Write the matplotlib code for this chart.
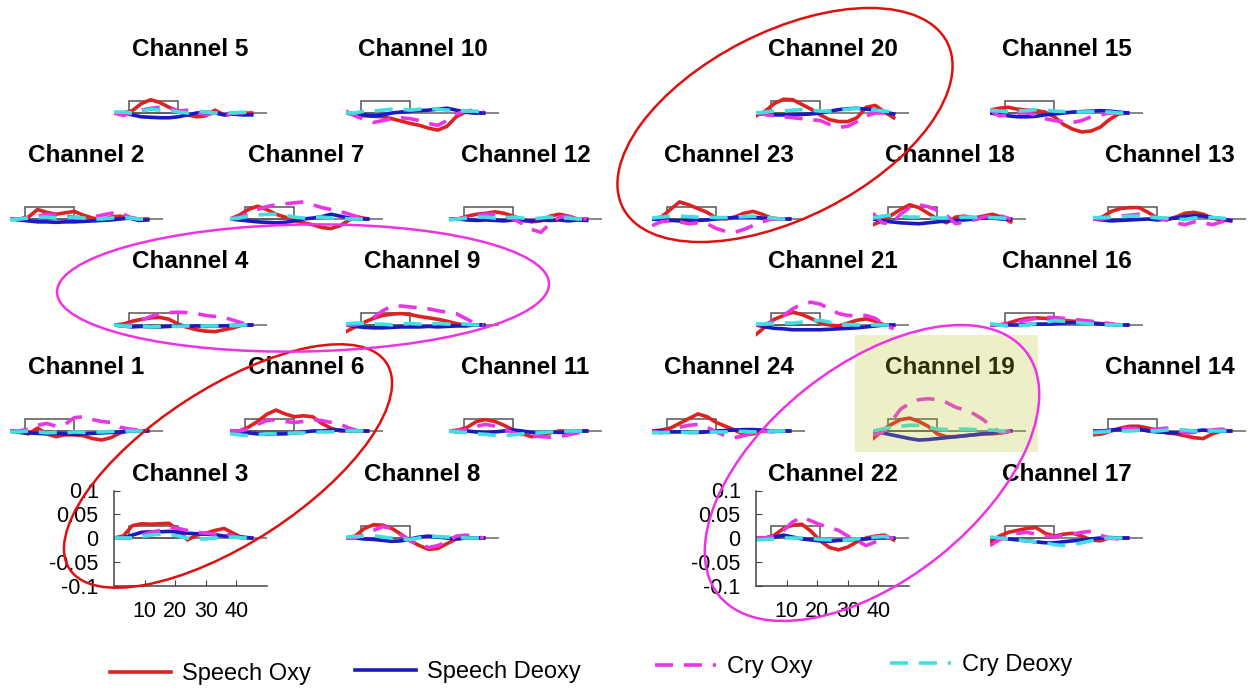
import numpy as np
import matplotlib.pyplot as plt
from matplotlib.patches import Ellipse, Rectangle
from matplotlib.lines import Line2D

plt.rcParams['font.family'] = ['Liberation Sans', 'DejaVu Sans']

# time axis (s)
t = [0, 3, 6, 9, 12, 15, 18, 21, 24, 27, 30, 33, 36, 39, 42, 45]

# stimulus block
stim_on, stim_off, stim_h = 5, 21, 0.025

# so = speech oxy, sd = speech deoxy, co = cry oxy, cd = cry deoxy
ch1 = dict(so=[0, -0.002, -0.006, 0.006, -0.006, -0.012, -0.008, -0.008, -0.01, -0.016, -0.019, -0.014, -0.004, 0, 0, 0],
           sd=[0, -0.003, -0.004, -0.005, -0.006, -0.005, -0.006, -0.007, -0.006, -0.005, -0.004, -0.003, -0.002, 0, 0, 0],
           co=[0, 0, 0.004, 0.012, 0.016, 0.01, 0.014, 0.028, 0.03, 0.024, 0.02, 0.018, 0.008, 0.004, 0.002, 0],
           cd=[-0.002, -0.002, 0, -0.002, -0.004, -0.003, -0.004, -0.002, -0.003, -0.002, -0.002, -0.001, 0, 0, 0, 0])
ch2 = dict(so=[0, 0, 0.004, 0.02, 0.014, 0.01, 0.013, 0.016, 0.008, 0.002, -0.002, 0.004, 0.006, 0.002, 0, 0],
           sd=[0, -0.002, -0.004, -0.006, -0.006, -0.007, -0.006, -0.006, -0.005, -0.004, -0.003, -0.002, 0, 0.002, -0.003, -0.002],
           co=[0, 0, 0.002, 0.006, 0.01, 0.008, 0.006, 0.004, 0.002, 0.004, 0.008, 0.012, 0.014, 0.004, 0, 0],
           cd=[-0.002, 0, 0.002, 0.004, 0.004, 0.002, 0.003, 0.004, 0.002, 0, 0, 0.002, 0.004, 0.002, 0, 0])
ch3 = dict(so=[0, 0.004, 0.026, 0.03, 0.029, 0.03, 0.031, 0.016, -0.004, 0.006, 0.01, 0.016, 0.02, 0.01, 0, 0],
           sd=[0, 0, 0.006, 0.012, 0.013, 0.013, 0.014, 0.012, 0.01, 0.009, 0.008, 0.007, 0.004, 0.004, 0.002, 0],
           co=[0, 0, 0, 0.006, 0.012, 0.016, 0.022, 0.02, 0.016, 0.012, 0.01, 0.008, 0.01, 0.004, 0, -0.004],
           cd=[0, 0, 0, 0.003, 0.006, 0.008, 0.008, 0.004, 0, -0.002, -0.002, 0, 0, 0.002, 0, 0])
ch4 = dict(so=[0, 0.002, 0.008, 0.012, 0.015, 0.016, 0.012, 0.002, -0.005, -0.01, -0.013, -0.014, -0.01, -0.006, 0, 0],
           sd=[0, -0.002, -0.004, -0.003, -0.004, -0.004, -0.003, -0.002, -0.003, -0.002, -0.003, -0.002, -0.002, -0.001, 0, 0],
           co=[0, -0.002, 0.002, 0.01, 0.018, 0.024, 0.026, 0.027, 0.026, 0.024, 0.02, 0.018, 0.016, 0.01, 0.004, 0],
           cd=[0, -0.002, -0.003, -0.002, -0.004, -0.003, -0.002, -0.003, -0.002, -0.003, -0.002, -0.002, 0, -0.002, 0, 0])
ch5 = dict(so=[0, 0, 0.005, 0.02, 0.028, 0.022, 0.012, 0.004, -0.004, -0.008, -0.006, 0.006, -0.004, -0.002, 0, 0],
           sd=[0, 0, -0.004, -0.008, -0.009, -0.01, -0.01, -0.008, -0.004, 0, 0.002, 0, -0.004, -0.002, -0.004, -0.004],
           co=[0, -0.005, 0, 0.006, 0.01, 0.012, 0.01, 0.004, 0.006, 0.002, -0.004, 0, -0.006, 0, 0, 0],
           cd=[0.002, 0.002, 0, 0.004, 0.008, 0.006, 0.006, 0.002, 0, 0.004, 0.002, 0, 0.002, 0, 0.002, 0])
ch6 = dict(so=[0, 0, 0.008, 0.02, 0.035, 0.044, 0.036, 0.03, 0.032, 0.03, 0.016, 0.006, 0, 0, 0, 0],
           sd=[0, -0.002, -0.004, -0.006, -0.007, -0.006, -0.006, -0.004, -0.002, 0, 0, 0.002, 0.002, 0, 0, 0],
           co=[0, 0, 0.004, 0.014, 0.022, 0.024, 0.02, 0.018, 0.02, 0.024, 0.022, 0.018, 0.014, 0.006, 0, 0],
           cd=[-0.006, -0.008, -0.01, -0.008, -0.006, -0.006, -0.005, -0.004, -0.004, -0.003, -0.002, -0.002, 0, 0, 0, 0])
ch7 = dict(so=[0, 0.008, 0.02, 0.027, 0.02, 0.01, 0.004, -0.003, -0.008, -0.012, -0.018, -0.02, -0.014, -0.002, 0.004, 0],
           sd=[0, -0.002, -0.004, -0.006, -0.007, -0.008, -0.007, -0.004, 0, 0.002, 0.005, 0.01, 0.006, 0.002, 0, 0],
           co=[0, 0.004, 0.012, 0.02, 0.026, 0.03, 0.032, 0.034, 0.036, 0.03, 0.024, 0.02, 0.016, 0.01, 0.004, 0],
           cd=[0, 0.002, 0.006, 0.008, 0.01, 0.01, 0.008, 0.004, 0.002, 0.004, 0.004, 0.002, 0.002, 0, 0, 0])
ch8 = dict(so=[0, 0.004, 0.02, 0.028, 0.027, 0.02, 0.008, -0.006, -0.016, -0.024, -0.022, -0.012, -0.002, 0, 0, 0],
           sd=[0, 0, -0.002, -0.003, -0.005, -0.007, -0.006, -0.002, 0.002, 0.004, 0.002, 0, -0.002, 0, 0, 0],
           co=[0, 0, 0.006, 0.016, 0.024, 0.02, 0.006, -0.006, -0.012, -0.02, -0.016, -0.008, 0.004, 0.006, 0.004, 0],
           cd=[0.002, 0.003, 0.004, 0.005, 0.002, 0, -0.002, -0.003, 0, 0.004, 0.003, 0.002, 0.002, 0, 0, 0])
ch9 = dict(so=[-0.014, -0.004, 0.006, 0.014, 0.02, 0.023, 0.024, 0.022, 0.018, 0.015, 0.012, 0.008, 0.003, 0, 0, 0],
           sd=[0, -0.003, -0.005, -0.006, -0.006, -0.005, -0.004, -0.004, -0.004, -0.003, -0.004, -0.003, -0.002, -0.002, 0, 0],
           co=[0, 0, 0.004, 0.016, 0.03, 0.04, 0.04, 0.038, 0.036, 0.034, 0.03, 0.027, 0.024, 0.014, 0.004, 0],
           cd=[0.002, 0.004, 0.004, 0.002, 0.002, 0, 0.002, 0.003, 0.002, 0.002, 0.003, 0.002, 0.002, 0.002, 0, 0])
ch10 = dict(so=[0, -0.003, -0.006, -0.007, -0.008, -0.012, -0.017, -0.022, -0.026, -0.032, -0.036, -0.028, -0.008, 0.002, 0, 0],
            sd=[0, -0.002, -0.004, -0.006, -0.004, 0, 0.002, 0.004, 0.005, 0.006, 0.008, 0.01, 0.006, 0.002, 0, 0],
            co=[0.004, -0.006, -0.014, -0.02, -0.016, -0.012, -0.01, -0.012, -0.016, -0.022, -0.026, -0.016, -0.002, 0.004, 0.006, 0.004],
            cd=[0, 0, 0.004, 0.004, 0.006, 0.008, 0.008, 0.006, 0.008, 0.01, 0.008, 0.006, 0.006, 0.004, 0.004, 0.002])
ch11 = dict(so=[0, 0.002, 0.008, 0.02, 0.024, 0.02, 0.012, 0.002, -0.006, -0.012, -0.01, -0.004, 0, 0, 0, 0],
            sd=[0, -0.002, 0, -0.002, -0.004, -0.002, 0, 0.002, 0, -0.003, -0.004, -0.002, -0.003, -0.002, 0, 0],
            co=[0, 0, 0.004, 0.01, 0.014, 0.01, 0.004, -0.004, -0.008, -0.01, -0.012, -0.013, -0.012, -0.008, -0.004, 0],
            cd=[0, -0.002, -0.004, -0.006, -0.007, -0.009, -0.01, -0.008, -0.006, -0.004, -0.004, -0.002, -0.002, 0, 0, 0])
ch12 = dict(so=[0, 0, 0.006, 0.01, 0.012, 0.015, 0.012, 0.006, -0.002, -0.006, -0.004, 0.006, 0.01, 0.006, 0, 0],
            sd=[0, 0, -0.002, -0.003, -0.002, -0.003, -0.004, -0.002, -0.003, -0.004, -0.002, -0.003, -0.002, -0.004, -0.002, -0.003],
            co=[0, 0, 0.004, 0.008, 0.01, 0.01, 0.006, 0, -0.01, -0.022, -0.028, -0.01, 0.004, 0.006, 0.002, 0],
            cd=[-0.002, 0, 0.002, 0.004, 0.004, 0.002, 0.002, 0.004, 0.002, 0, 0.002, 0.004, 0.002, 0.002, 0, 0])
ch13 = dict(so=[0, 0.004, 0.016, 0.022, 0.024, 0.024, 0.014, 0.002, -0.002, 0.004, 0.012, 0.014, 0.01, 0.002, -0.002, -0.004],
            sd=[0, -0.002, -0.004, -0.003, -0.002, -0.001, 0, -0.002, 0, 0.002, 0.005, 0.007, 0.006, 0.003, 0, -0.003],
            co=[0, 0, 0.004, 0.006, 0.008, 0.01, 0.006, 0.002, -0.002, -0.008, -0.012, -0.006, -0.008, -0.012, -0.006, 0],
            cd=[0.003, 0.003, 0.004, 0.005, 0.006, 0.006, 0.004, 0.003, 0.002, 0, -0.001, 0.002, 0.003, 0.003, 0.002, 0])
ch14 = dict(so=[-0.008, -0.006, 0, 0.006, 0.01, 0.01, 0.006, 0.002, -0.004, -0.006, -0.01, -0.014, -0.016, -0.006, 0, 0],
            sd=[0, 0, 0.002, 0.004, 0.006, 0.004, 0, -0.002, -0.003, -0.004, -0.002, 0, 0.002, 0, 0, 0],
            co=[-0.004, -0.002, 0, 0.004, 0.006, 0.004, 0.002, 0.004, 0.006, 0.002, -0.004, -0.003, 0, 0.002, 0.004, 0],
            cd=[-0.003, -0.002, 0, 0, 0, 0.001, 0, 0, 0.002, 0.003, 0.002, 0, 0, 0, 0, 0])
ch15 = dict(so=[0.006, 0.01, 0.012, 0.008, 0.006, 0.005, 0.002, -0.008, -0.024, -0.034, -0.04, -0.038, -0.03, -0.014, -0.002, 0],
            sd=[0, -0.003, -0.006, -0.008, -0.008, -0.007, -0.004, -0.002, 0, 0.002, 0.003, 0.004, 0.005, 0.004, 0.002, 0],
            co=[0.006, -0.006, -0.004, 0, 0, -0.004, -0.012, -0.016, -0.018, -0.02, -0.016, -0.008, -0.004, 0, 0, 0],
            cd=[0.006, 0.004, 0.003, 0.004, 0.005, 0.007, 0.006, 0.004, 0.003, 0.003, 0.002, 0.003, 0.003, 0.002, 0, 0])
ch16 = dict(so=[0, 0, 0.004, 0.01, 0.014, 0.015, 0.014, 0.012, 0.01, 0.008, 0.007, 0.005, 0.003, 0.002, 0, 0],
            sd=[0, 0, 0, 0, 0.001, 0.002, 0.002, 0.003, 0.004, 0.005, 0.004, 0.003, 0.002, 0.001, 0, 0],
            co=[0, 0, 0.002, 0.006, 0.01, 0.014, 0.016, 0.016, 0.014, 0.012, 0.01, 0.008, 0.006, 0.003, 0, 0],
            cd=[0.003, 0, -0.003, -0.002, 0, 0.003, 0.006, 0.009, 0.008, 0.006, 0.004, 0.002, 0.001, 0, 0, 0])
ch17 = dict(so=[-0.01, 0.004, 0.012, 0.016, 0.02, 0.022, 0.01, 0.004, 0.008, 0.01, 0.004, -0.004, -0.006, 0, 0, 0],
            sd=[0, 0, -0.002, -0.004, -0.006, -0.008, -0.01, -0.01, -0.008, -0.006, -0.004, -0.002, 0, 0.001, 0, 0],
            co=[-0.016, -0.004, 0.004, 0.01, 0.012, 0.008, 0.004, 0.002, 0.006, 0.008, 0.012, 0.014, 0.006, 0, -0.002, 0],
            cd=[0.002, 0, -0.002, -0.004, -0.006, -0.008, -0.01, -0.014, -0.016, -0.014, -0.01, -0.006, -0.002, 0, 0, 0])
ch18 = dict(so=[-0.012, -0.004, 0.008, 0.02, 0.03, 0.024, 0.012, 0, -0.008, 0.004, 0.006, 0.002, 0.006, 0.01, 0.004, -0.006],
            sd=[0, -0.004, -0.006, -0.008, -0.009, -0.01, -0.008, -0.006, -0.004, -0.003, -0.002, 0, 0.002, 0.002, 0, 0],
            co=[0.012, -0.008, -0.01, 0.01, 0.024, 0.03, 0.026, 0.018, 0.008, -0.01, -0.006, -0.002, 0.004, 0.006, 0.006, 0],
            cd=[0.002, 0.006, 0.008, 0.006, 0.004, 0.004, 0.003, 0.002, 0.002, 0.003, 0.004, 0.004, 0.003, 0.003, 0.002, 0])
ch19 = dict(so=[-0.016, 0, 0.014, 0.024, 0.027, 0.02, 0.01, -0.006, -0.012, -0.012, -0.01, -0.008, -0.006, -0.006, -0.004, 0],
            sd=[0, -0.004, -0.008, -0.012, -0.016, -0.019, -0.018, -0.016, -0.014, -0.012, -0.01, -0.008, -0.006, -0.004, -0.002, 0],
            co=[-0.008, -0.004, 0.02, 0.046, 0.058, 0.066, 0.068, 0.066, 0.06, 0.05, 0.044, 0.036, 0.024, 0.008, -0.004, 0],
            cd=[0, 0.004, 0.008, 0.01, 0.012, 0.012, 0.008, 0.004, 0.003, 0.004, 0.004, 0.003, 0.002, 0.002, 0, 0])
ch20 = dict(so=[-0.006, 0.004, 0.02, 0.029, 0.028, 0.018, 0.008, -0.004, -0.014, -0.018, -0.018, -0.01, 0.012, 0.016, 0.002, -0.01],
            sd=[0, -0.003, -0.004, -0.004, -0.004, -0.003, -0.002, 0, 0.004, 0.007, 0.009, 0.01, 0.008, 0.006, 0.002, -0.002],
            co=[0, -0.003, -0.006, -0.008, -0.01, -0.012, -0.014, -0.016, -0.024, -0.03, -0.028, -0.018, -0.006, 0, 0, 0],
            cd=[0, 0.002, 0.004, 0.004, 0.006, 0.007, 0.006, 0.004, 0.004, 0.006, 0.008, 0.01, 0.008, 0.006, 0.004, 0.002])
ch21 = dict(so=[-0.02, -0.004, 0.012, 0.02, 0.027, 0.022, 0.014, 0.004, 0, -0.002, 0.004, 0.01, 0.013, 0.008, 0, 0],
            sd=[0, -0.004, -0.007, -0.008, -0.01, -0.01, -0.01, -0.01, -0.009, -0.008, -0.007, -0.006, -0.004, -0.002, 0, 0],
            co=[0, 0.002, 0.008, 0.02, 0.034, 0.044, 0.048, 0.044, 0.034, 0.024, 0.02, 0.02, 0.02, 0.014, 0, -0.008],
            cd=[0.002, 0.002, 0.003, 0.004, 0.004, 0.006, 0.008, 0.01, 0.006, 0.002, 0.001, 0, 0.001, 0, 0, 0])
ch22 = dict(so=[0, 0, 0.006, 0.02, 0.027, 0.029, 0.014, -0.006, -0.02, -0.025, -0.019, -0.008, 0, 0.004, 0.006, -0.004],
            sd=[0, -0.002, 0.002, 0.006, 0.002, -0.002, -0.004, -0.006, -0.007, -0.005, -0.004, -0.003, -0.002, 0, 0, 0],
            co=[0, 0, 0.004, 0.016, 0.034, 0.044, 0.036, 0.028, 0.022, 0.016, 0.004, -0.006, -0.016, -0.008, 0, 0],
            cd=[-0.004, -0.003, -0.002, 0, 0, 0, -0.001, -0.003, -0.004, -0.005, -0.004, -0.002, 0, 0.002, 0.003, 0])
ch23 = dict(so=[0, 0.004, 0.02, 0.036, 0.03, 0.022, 0.014, 0.002, 0, 0.004, 0.012, 0.016, 0.01, 0.002, 0, 0],
            sd=[0, -0.002, -0.003, -0.004, -0.003, -0.003, -0.002, 0, 0.002, 0.003, 0.004, 0.004, 0.002, 0, 0, 0],
            co=[-0.014, -0.006, -0.004, -0.006, -0.01, -0.008, -0.01, -0.02, -0.026, -0.028, -0.022, -0.014, -0.006, 0, 0, 0],
            cd=[0.002, 0.004, 0.006, 0.006, 0.005, 0.004, 0.004, 0.003, 0.003, 0.004, 0.005, 0.006, 0.004, 0.002, 0, 0])
ch24 = dict(so=[0, 0.002, 0.006, 0.016, 0.026, 0.036, 0.03, 0.018, 0.01, 0.002, -0.008, -0.006, 0, 0, 0, 0],
            sd=[0, 0, -0.002, -0.002, -0.003, -0.003, -0.002, 0, 0.001, 0.002, 0.003, 0.003, 0.002, 0, 0, 0],
            co=[0, -0.004, 0, 0.008, 0.012, 0.014, 0.008, -0.002, -0.01, -0.014, -0.01, -0.004, 0, -0.002, 0, 0],
            cd=[-0.004, -0.003, -0.004, -0.003, -0.003, -0.002, -0.003, -0.002, -0.002, -0.001, -0.001, -0.002, -0.002, 0, 0, 0])

channels = {1: ch1, 2: ch2, 3: ch3, 4: ch4, 5: ch5, 6: ch6, 7: ch7, 8: ch8,
            9: ch9, 10: ch10, 11: ch11, 12: ch12, 13: ch13, 14: ch14, 15: ch15, 16: ch16,
            17: ch17, 18: ch18, 19: ch19, 20: ch20, 21: ch21, 22: ch22, 23: ch23, 24: ch24}

series = [('so', 'Speech Oxy', '#dd2222', '-'),
          ('sd', 'Speech Deoxy', '#1a1ac4', '-'),
          ('co', 'Cry Oxy', '#ea35e4', (0, (5, 3))),
          ('cd', 'Cry Deoxy', '#3fe0df', (0, (5, 3)))]

# panel layout in pixels: channel, left edge, y of zero line
layout = [(5, 114, 113), (10, 346, 113), (2, 10, 219), (7, 230, 219), (12, 449, 219),
          (4, 114, 325), (9, 346, 325), (1, 10, 431), (6, 230, 431), (11, 449, 431),
          (3, 114, 538), (8, 346, 538),
          (20, 756, 113), (15, 990, 113), (23, 652, 219), (18, 873, 219), (13, 1093, 219),
          (21, 756, 325), (16, 990, 325), (24, 652, 431), (19, 873, 431), (14, 1093, 431),
          (22, 756, 538), (17, 990, 538)]
labeled = {3, 22}

W, H = 1255, 690
AX_W, AX_H = 153, 95
fig = plt.figure(figsize=(W / 100, H / 100), dpi=100)

for ch, left, zero in layout:
    ax = fig.add_axes([left / W, (H - zero - AX_H / 2) / H, AX_W / W, AX_H / H])
    ax.set_xlim(0, 50)
    ax.set_ylim(-0.1, 0.1)
    ax.patch.set_visible(False)
    ax.plot([0, 50], [0, 0], color='#666666', lw=1.1, zorder=1)
    ax.add_patch(Rectangle((stim_on, 0), stim_off - stim_on, stim_h, fill=False,
                           ec='#555555', lw=1.1, zorder=1))
    d = channels[ch]
    for key, name, col, ls in series:
        ax.plot(t, d[key], color=col, ls=ls, lw=2.6, zorder=2)
    ax.set_title(f'Channel {ch}', fontsize=17.5, fontweight='bold', pad=7)
    if ch in labeled:
        for s in ['top', 'right']:
            ax.spines[s].set_visible(False)
        for s in ['left', 'bottom']:
            ax.spines[s].set_color('#444444')
            ax.spines[s].set_linewidth(1.1)
        ax.set_xticks([10, 20, 30, 40])
        ax.set_xticklabels(['10', '20', '30', '40'])
        ax.set_yticks([-0.1, -0.05, 0, 0.05, 0.1])
        ax.set_yticklabels(['-0.1', '-0.05', '0', '0.05', '0.1'])
        ax.tick_params(direction='in', length=4, color='#444444', labelsize=15.5, pad=11)
    else:
        ax.axis('off')

# overlay in pixel coordinates for highlight and ellipses
ov = fig.add_axes([0, 0, 1, 1])
ov.set_xlim(0, W)
ov.set_ylim(H, 0)
ov.axis('off')
ov.patch.set_visible(False)
ov.add_patch(Rectangle((855, 335), 183, 117, color=(187 / 255, 195 / 255, 35 / 255),
                       alpha=0.25, lw=0, zorder=1))
ov.add_patch(Ellipse((785, 125), 364, 186, angle=-27, fill=False, ec='#e01010', lw=1.8, zorder=3))
ov.add_patch(Ellipse((228, 466), 378, 155, angle=-33, fill=False, ec='#e01010', lw=1.8, zorder=3))
ov.add_patch(Ellipse((303, 288), 492, 127, angle=-1, fill=False, ec='#ee33e6', lw=1.8, zorder=3))
ov.add_patch(Ellipse((872, 473), 392, 214, angle=-38.5, fill=False, ec='#ee33e6', lw=1.8, zorder=3))

# legend entries
leg_pos = [(110, 674), (355, 672), (655, 667), (890, 665)]
for (key, name, col, ls), (lx, ly) in zip(series, leg_pos):
    h = Line2D([], [], color=col, ls=ls, lw=2.6)
    fig.legend(handles=[h], labels=[name], loc='center left',
               bbox_to_anchor=(lx / W, 1 - ly / H), frameon=False, fontsize=17,
               handlelength=2.6, handletextpad=0.45, borderpad=0, borderaxespad=0)

fig.savefig('out.png', dpi=100)
